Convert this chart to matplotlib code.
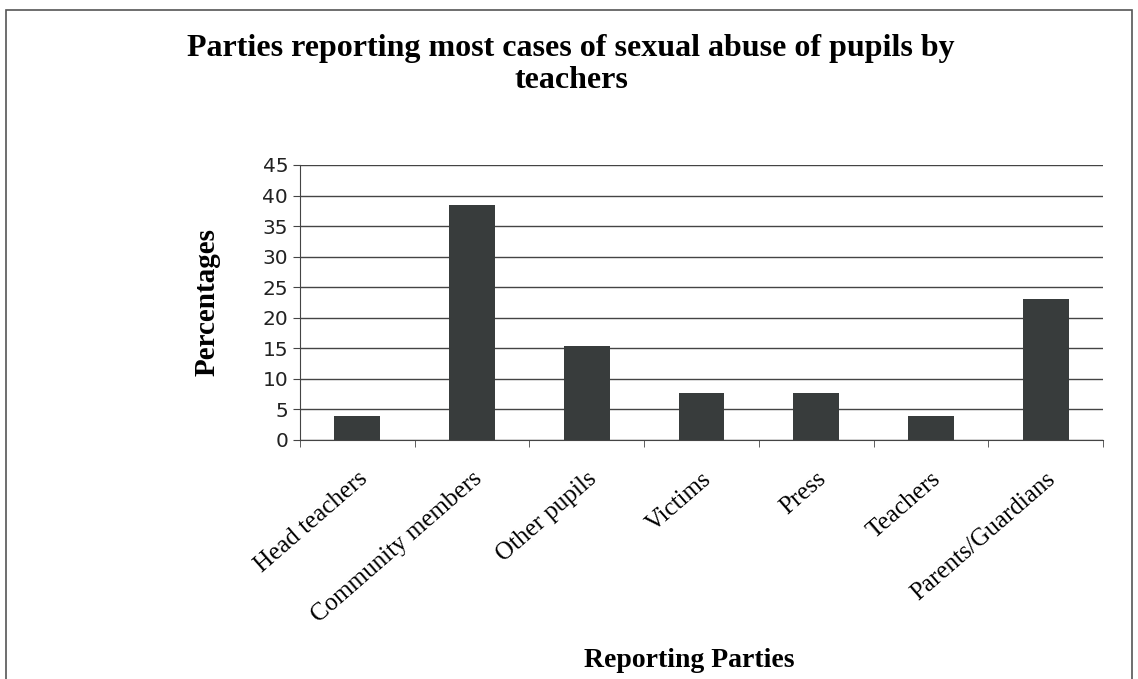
import matplotlib.pyplot as plt
import numpy as np

categories = ["Head teachers", "Community members", "Other pupils", "Victims",
              "Press", "Teachers", "Parents/Guardians"]
percentages = [3.85, 38.46, 15.38, 7.69, 7.69, 3.85, 23.08]
yticks = [0, 5, 10, 15, 20, 25, 30, 35, 40, 45]

fig = plt.figure(figsize=(11.38, 6.79), dpi=100)
ax = fig.add_axes([0.2636, 0.352, 0.7056, 0.405])

# frame around the whole chart
fig.patches.append(plt.Rectangle((0.005, -0.01), 0.99, 0.995, transform=fig.transFigure,
                                 fill=False, edgecolor="#555555", linewidth=1.2))

x = np.arange(len(categories))
ax.bar(x, percentages, width=0.4, color="#383c3c", zorder=3)

ax.set_xlim(-0.5, len(categories) - 0.5)
ax.set_ylim(0, 45)
ax.set_yticks(yticks)
ax.set_yticklabels([str(v) for v in yticks], fontsize=14.5, family="DejaVu Sans", color="#222222")
ax.yaxis.grid(True, color="#444444", linewidth=1.0, zorder=0)

ax.set_xticks(x)
ax.set_xticklabels(categories, rotation=41, ha="right", va="top", rotation_mode="anchor",
                   family="Liberation Serif", fontsize=18)
ax.tick_params(axis="x", length=0, pad=20)
ax.set_xticks(np.arange(len(categories) + 1) - 0.5, minor=True)
ax.tick_params(axis="x", which="minor", length=5, color="#444444", direction="out")
ax.tick_params(axis="y", length=5, color="#444444", direction="out")

for s in ["top", "right"]:
    ax.spines[s].set_visible(False)
ax.spines["left"].set_color("#444444")
ax.spines["bottom"].set_color("#444444")

ax.set_ylabel("Percentages", family="Liberation Serif", fontweight="bold", fontsize=21, labelpad=30)

fig.text(0.502, 0.929, "Parties reporting most cases of sexual abuse of pupils by",
         ha="center", va="center", family="Liberation Serif", fontweight="bold", fontsize=23)
fig.text(0.502, 0.882, "teachers",
         ha="center", va="center", family="Liberation Serif", fontweight="bold", fontsize=23)
fig.text(0.606, 0.027, "Reporting Parties",
         ha="center", va="center", family="Liberation Serif", fontweight="bold", fontsize=20)

fig.savefig("out.png", dpi=100)
